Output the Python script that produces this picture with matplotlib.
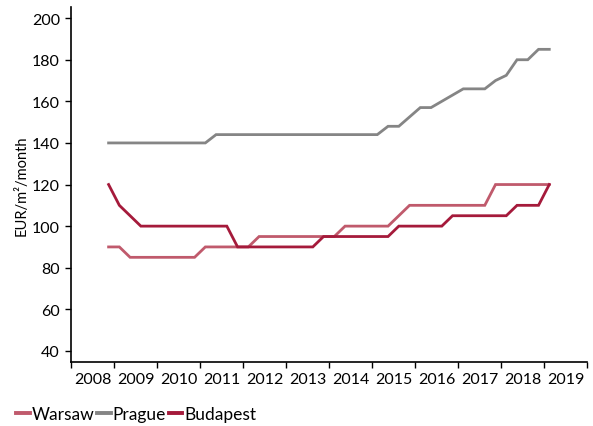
import matplotlib

matplotlib.use("Agg")
import matplotlib.pyplot as plt
import numpy as np
import pandas as pd

plt.rcParams["font.family"] = ["Lato", "DejaVu Sans"]

# quarterly observations, 2008Q4 .. 2019Q1
quarters = pd.period_range("2008Q4", "2019Q1", freq="Q")

warsaw = [90, 90, 85, 85, 85, 85, 85, 85, 85, 90, 90, 90, 90, 90,
          95, 95, 95, 95, 95, 95, 95, 95, 100, 100, 100, 100, 100, 105,
          110, 110, 110, 110, 110, 110, 110, 110, 120, 120, 120, 120, 120, 120]
prague = [140, 140, 140, 140, 140, 140, 140, 140, 140, 140, 144, 144, 144, 144,
          144, 144, 144, 144, 144, 144, 144, 144, 144, 144, 144, 144, 148, 148,
          152.5, 157, 157, 160, 163, 166, 166, 166, 170, 172.5, 180, 180, 185, 185]
budapest = [120, 110, 105, 100, 100, 100, 100, 100, 100, 100, 100, 100, 90, 90,
            90, 90, 90, 90, 90, 90, 95, 95, 95, 95, 95, 95, 95, 100,
            100, 100, 100, 100, 105, 105, 105, 105, 105, 105, 110, 110, 110, 120]

years = list(range(2008, 2020))
yticks = [40, 60, 80, 100, 120, 140, 160, 180, 200]

COLORS = {"Warsaw": "#C05A6C", "Prague": "#858585", "Budapest": "#A51A3B"}

# quarter centre as decimal year
x = np.array([q.year + (q.quarter - 0.5) / 4 for q in quarters])

fig = plt.figure(figsize=(5.93, 4.27), dpi=100)
ax = fig.add_axes([0.1197, 0.150, 0.870, 0.831])

for name, vals in [("Warsaw", warsaw), ("Prague", prague), ("Budapest", budapest)]:
    ax.plot(x, vals, color=COLORS[name], lw=2.0, label=name, solid_joinstyle="miter")

ax.set_xlim(2008, 2020)
ax.set_ylim(34.7, 205.3)
ax.set_xticks(years + [2020])
ax.set_xticklabels([])
ax.set_xticks([y + 0.5 for y in years], minor=True)
ax.set_xticklabels([str(y) for y in years], minor=True, fontsize=11.5)
ax.tick_params(axis="x", which="major", length=4, width=1, direction="out")
ax.tick_params(axis="x", which="minor", length=0, pad=7)
ax.set_yticks(yticks)
ax.tick_params(axis="y", length=4, width=1, labelsize=11.5, pad=4)
ax.set_ylabel("EUR/m²/month", fontsize=10.5, labelpad=2)

for s in ["top", "right"]:
    ax.spines[s].set_visible(False)
for s in ["left", "bottom"]:
    ax.spines[s].set_linewidth(1.2)

leg = ax.legend(loc="lower left", bbox_to_anchor=(-0.12, -0.19), ncol=3, frameon=False,
                fontsize=12.5, handlelength=0.8, handletextpad=0.1, columnspacing=0.15,
                borderaxespad=0)
for h in leg.get_lines():
    h.set_linewidth(2.8)

fig.savefig("out.png", dpi=100)
